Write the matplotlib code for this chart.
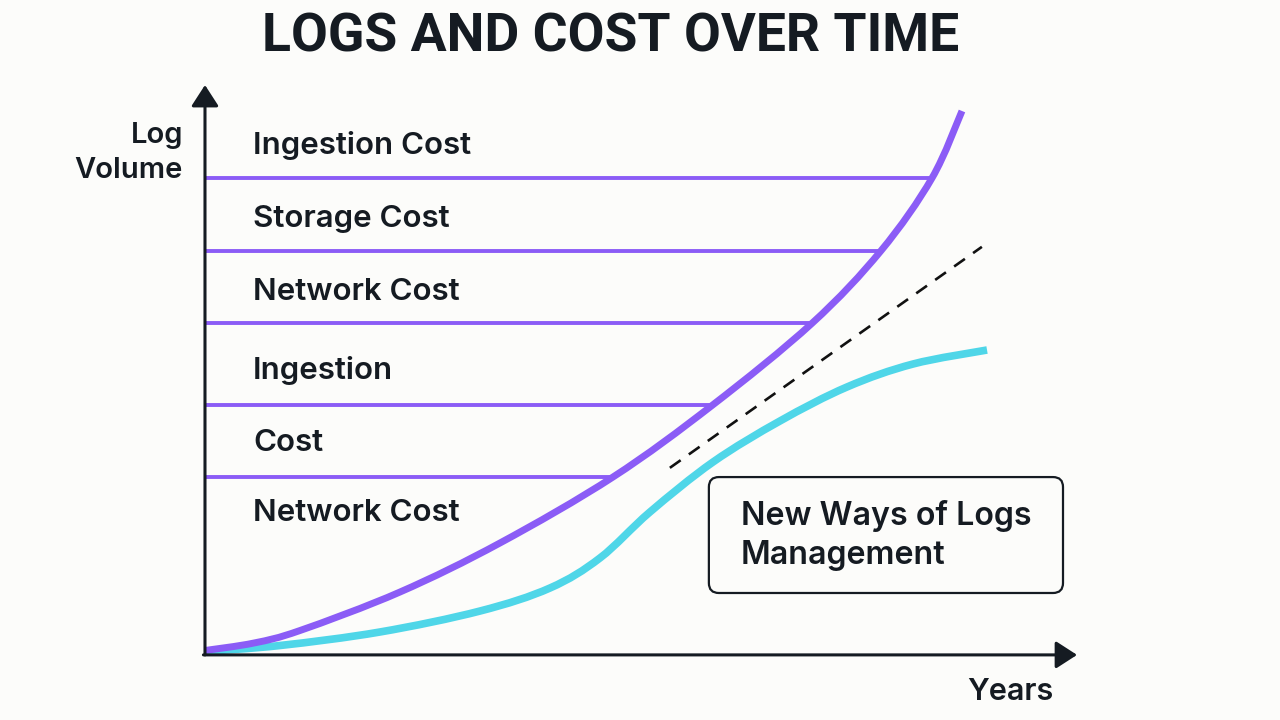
import numpy as np
import matplotlib
matplotlib.use("Agg")
import matplotlib.pyplot as plt
from matplotlib.patches import FancyBboxPatch, PathPatch
from matplotlib.path import Path

# ---- data (years on x, relative log volume / cost on y) ----
cost_x = [0.0, 0.628, 1.218, 2.500, 3.782, 5.231, 6.500, 7.782, 8.667, 9.321, 9.705]
cost_y = [0.46, 1.84, 4.14, 11.23, 20.26, 32.41, 45.58, 60.72, 74.09, 87.48, 99.82]

new_x = [0.0, 0.962, 2.244, 3.526, 4.423, 5.064, 5.705, 6.513, 7.372, 8.231, 9.077, 10.026]
new_y = [0.28, 1.38, 3.87, 7.73, 11.97, 17.50, 25.97, 35.17, 42.73, 48.99, 53.22, 55.80]

trend_x = [5.96, 9.96]
trend_y = [34.1, 74.8]

band_levels = [87.5, 74.1, 60.7, 45.6, 32.5]
band_labels = ["Ingestion Cost", "Storage Cost", "Network Cost", "Ingestion", "Cost", "Network Cost"]
band_label_y = [93.4, 80.0, 66.5, 52.0, 38.7, 25.7]

title = "LOGS AND COST OVER TIME"
y_label = "Log\nVolume"
x_label = "Years"
box_text = "New Ways of Logs\nManagement"

# ---- style ----
BG = "#fcfcfa"
INK = "#151b22"
PURPLE = "#8b5cf6"
CYAN = "#4fd6e8"
FONT = ["Inter", "DejaVu Sans"]


def smooth_path(xs, ys):
    """Catmull-Rom curve through the points, drawn as cubic Bezier segments."""
    p = np.column_stack([xs, ys]).astype(float)
    verts = [p[0]]
    codes = [Path.MOVETO]
    n = len(p)
    for i in range(n - 1):
        p0 = p[i - 1] if i > 0 else p[i]
        p1, p2 = p[i], p[i + 1]
        p3 = p[i + 2] if i + 2 < n else p[i + 1]
        c1 = p1 + (p2 - p0) / 6.0
        c2 = p2 - (p3 - p1) / 6.0
        verts += [c1, c2, p2]
        codes += [Path.CURVE4] * 3
    return Path(verts, codes)


fig = plt.figure(figsize=(12.8, 7.2), dpi=100, facecolor=BG)
ax = fig.add_axes([0, 0, 1, 1])
ax.set_facecolor(BG)
ax.set_xlim(-2.628, 13.782)
ax.set_ylim(-12.34, 120.26)
ax.axis("off")

# horizontal band lines ending at the cost curve
for lv in band_levels:
    x_end = np.interp(lv, cost_y, cost_x)
    ax.plot([0, x_end], [lv, lv], color=PURPLE, lw=2.8, solid_capstyle="butt", zorder=2)

# curves
ax.add_patch(PathPatch(smooth_path(new_x, new_y), fill=False, edgecolor=CYAN, lw=5.5,
                       capstyle="butt", zorder=3))
ax.add_patch(PathPatch(smooth_path(cost_x, cost_y), fill=False, edgecolor=PURPLE, lw=5.0,
                       capstyle="butt", zorder=4))
ax.plot(trend_x, trend_y, color="#111111", lw=1.9, dashes=(5, 3.8), zorder=3)

# axes arrows
arrow_kw = dict(arrowstyle="-|>,head_length=0.65,head_width=0.42", color=INK, lw=2.2,
                shrinkA=0, shrinkB=0, mutation_scale=20)
ax.annotate("", xy=(0, 104.6), xytext=(0, -0.35), arrowprops=arrow_kw, zorder=5)
ax.annotate("", xy=(11.18, -0.35), xytext=(-0.02, -0.35), arrowprops=arrow_kw, zorder=5)

# band labels
for lab, yy in zip(band_labels, band_label_y):
    ax.text(0.615, yy, lab, fontsize=22.5, color=INK, family=FONT, fontweight="semibold",
            ha="left", va="center")

# axis labels
ax.text(-0.28, 92.1, y_label, fontsize=21, color=INK, family=FONT, fontweight="semibold",
        ha="right", va="center", linespacing=1.36, multialignment="right")
ax.text(10.32, -7.1, x_label, fontsize=22, color=INK, family=FONT, fontweight="semibold",
        ha="center", va="center")

# annotation box
box = FancyBboxPatch((6.46, 11.05), 11.0 - 6.46, 32.4 - 11.05,
                     boxstyle="round,pad=0,rounding_size=0.128", mutation_aspect=78 / 5.43,
                     facecolor=BG, edgecolor=INK, lw=1.6, zorder=5)
ax.add_patch(box)
ax.text(6.87, 21.7, box_text, fontsize=23.2, color=INK, family=FONT, fontweight="semibold",
        ha="left", va="center", linespacing=1.33, zorder=6)

# title
fig.text(0.477, 1 - 37 / 720, title, fontsize=38.5, fontweight="bold", color=INK,
         family=["Roboto", "DejaVu Sans"], ha="center", va="center")

fig.savefig("out.png", dpi=100, facecolor=BG)
